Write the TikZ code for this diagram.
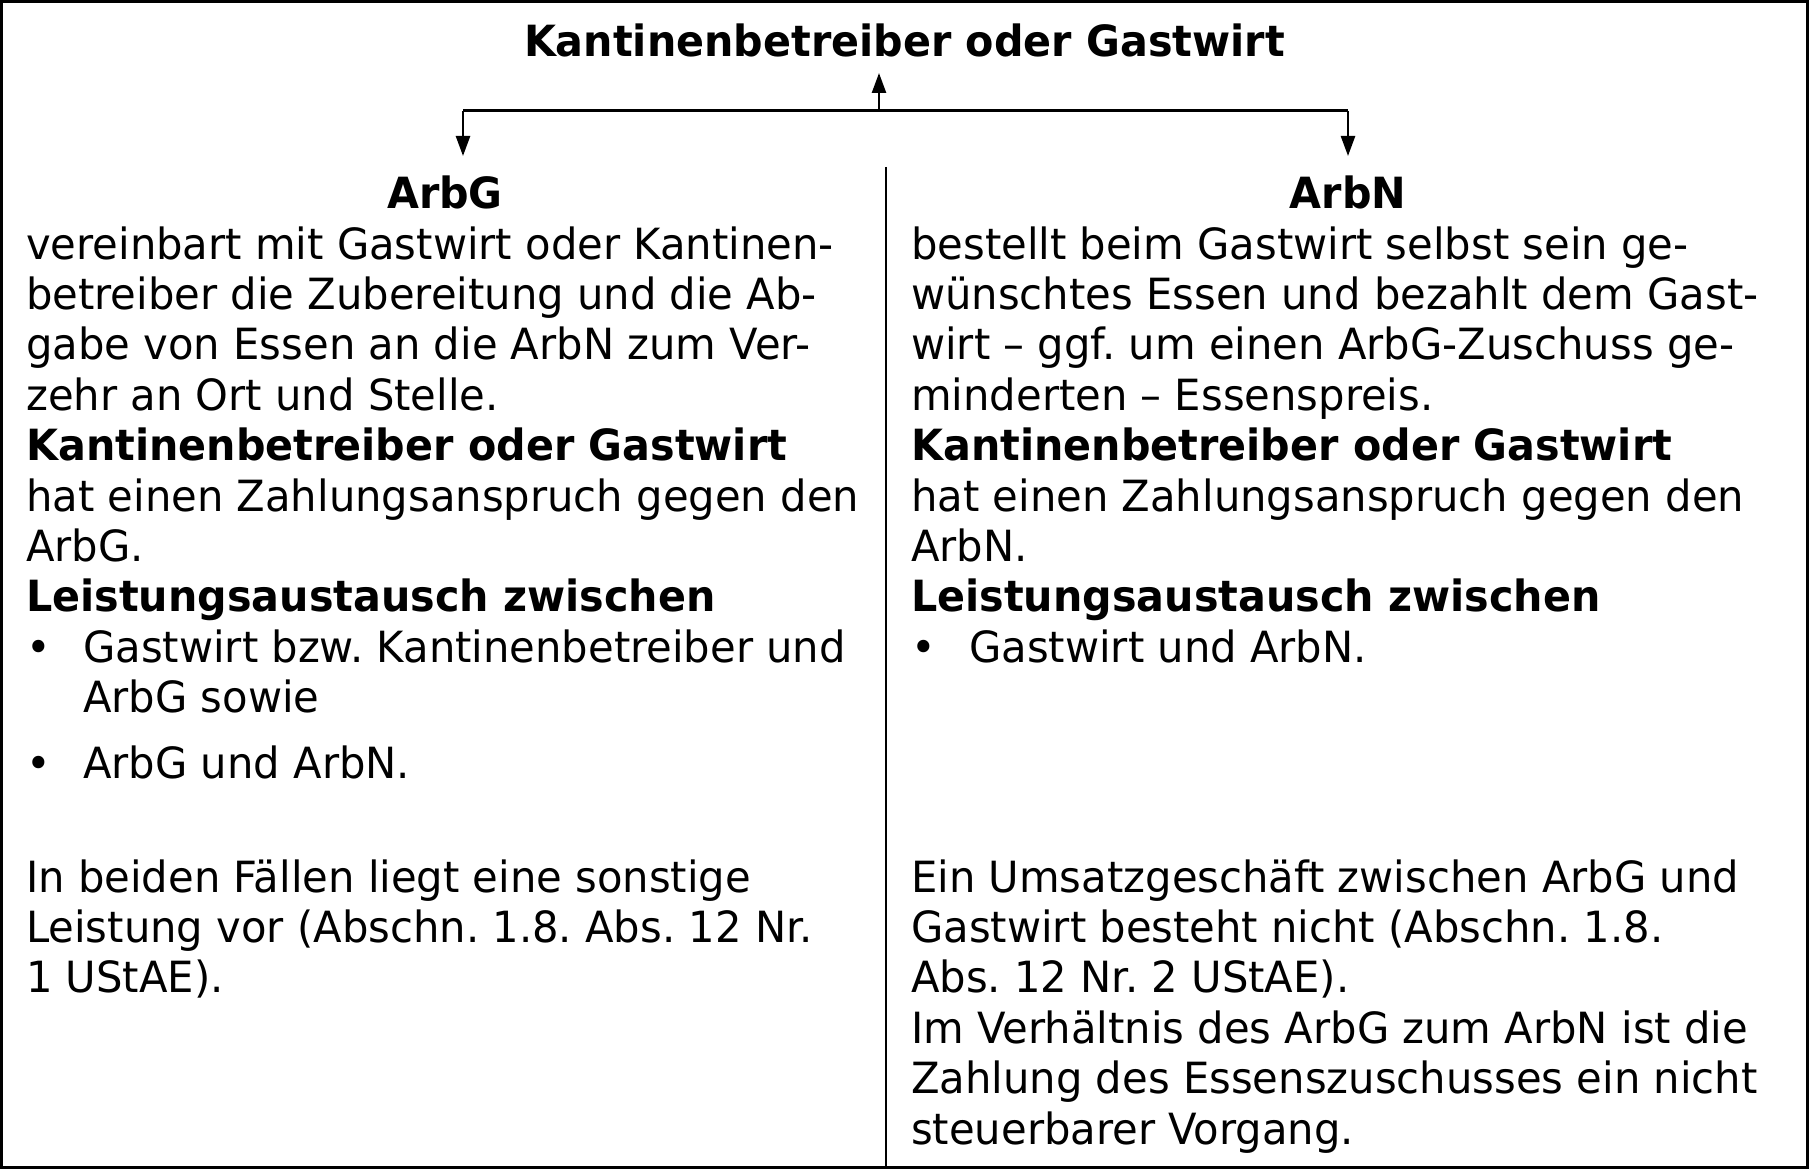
\documentclass[tikz,border=0pt]{standalone}
\usepackage{fontspec}
\setmainfont{DejaVu Sans}[FakeStretch=0.97,BoldFeatures={FakeStretch=0.96}]
\usetikzlibrary{arrows.meta}
\begin{document}
\frenchspacing
\begin{tikzpicture}[x=1pt,y=-1pt,
  txt/.style={inner sep=0pt, anchor=base west, align=left, font=\fontsize{43}{50.4}\selectfont},
  head/.style={inner sep=0pt, anchor=base, font=\fontsize{43}{50.4}\selectfont\bfseries},
  bul/.style={inner sep=0pt, anchor=base west, font=\fontsize{43}{50.4}\selectfont},
  conn/.style={line width=3pt},
  arr/.style={line width=2.5pt, -{Triangle[length=20pt,width=14pt]}},
  frame/.style={line width=3pt},
  divider/.style={line width=2pt}]
\useasboundingbox (0,0) rectangle (1809,1169);
\draw[frame] (1.5,1.5) rectangle (1807.5,1167.5);
% title and branches
\node[head] (title) at (904.5,57) {Kantinenbetreiber oder Gastwirt};
\coordinate (hub) at (879,111);
\coordinate (uptip) at (879,73);
\coordinate (lc) at (463,111);
\coordinate (rc) at (1348,111);
\coordinate (ltip) at (463,156);
\coordinate (rtip) at (1348,156);
\draw[conn] (lc) -- (rc);
\draw[arr] (hub) -- (uptip);
\draw[arr] (lc) -- (ltip);
\draw[arr] (rc) -- (rtip);
% divider
\coordinate (dtop) at (886,167);
\coordinate (dbot) at (886,1169);
\draw[divider] (dtop) -- (dbot);
% column heads
\node[head] (arbg) at (445,208.6) {ArbG};
\node[head] (arbn) at (1348,208.6) {ArbN};
% left column (multi-line nodes are anchored at the baseline of their last line)
\node[txt] (lA) at (26,611.8) {vereinbart mit Gastwirt oder Kantinen-\\
betreiber die Zubereitung und die Ab-\\
gabe von Essen an die ArbN zum Ver-\\
zehr an Ort und Stelle.\\
\textbf{Kantinenbetreiber oder Gastwirt}\\
hat einen Zahlungsanspruch gegen den\\
ArbG.\\
\textbf{Leistungsaustausch zwischen}};
\node[bul] (lb1) at (26,662) {•};
\node[txt] (li1) at (83,712.4) {Gastwirt bzw. Kantinenbetreiber und\\ArbG sowie};
\node[bul] (lb2) at (26,778) {•};
\node[txt] (li2) at (83,778) {ArbG und ArbN.};
\node[txt] (lC) at (26,992.8) {In beiden Fällen liegt eine sonstige\\
Leistung vor (Abschn. 1.8. Abs. 12 Nr.\\
1 UStAE).};
% right column
\node[txt] (rA) at (911,611.8) {bestellt beim Gastwirt selbst sein ge-\\
wünschtes Essen und bezahlt dem Gast-\\
wirt – ggf. um einen ArbG-Zuschuss ge-\\
minderten – Essenspreis.\\
\textbf{Kantinenbetreiber oder Gastwirt}\\
hat einen Zahlungsanspruch gegen den\\
ArbN.\\
\textbf{Leistungsaustausch zwischen}};
\node[bul] (rb1) at (911,662) {•};
\node[txt] (ri1) at (969,662) {Gastwirt und ArbN.};
\node[txt] (rC) at (911,1144) {Ein Umsatzgeschäft zwischen ArbG und\\
Gastwirt besteht nicht (Abschn. 1.8.\\
Abs. 12 Nr. 2 UStAE).\\
Im Verhältnis des ArbG zum ArbN ist die\\
Zahlung des Essenszuschusses ein nicht\\
steuerbarer Vorgang.};
\end{tikzpicture}
\end{document}
